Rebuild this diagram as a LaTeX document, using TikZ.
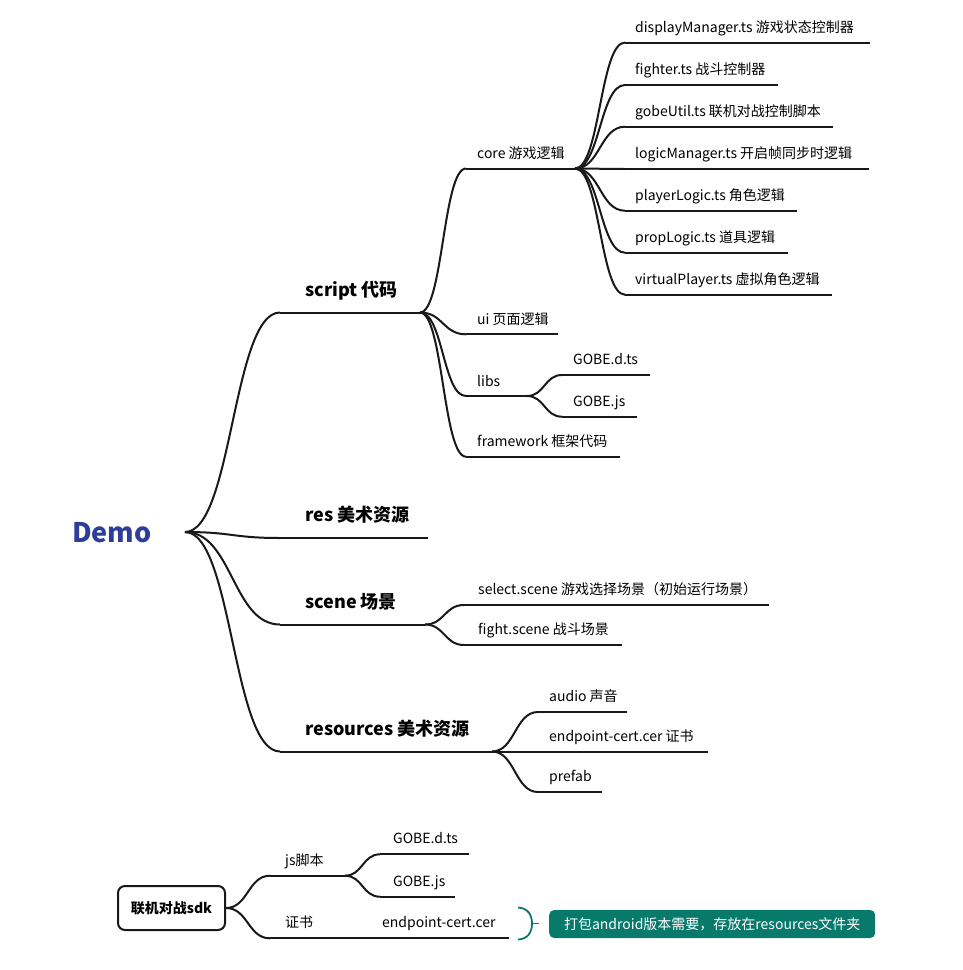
\documentclass[tikz,border=0pt]{standalone}
\usepackage{fontspec}
\setmainfont{Noto Sans CJK SC}
\usetikzlibrary{calc}
\definecolor{demoblue}{RGB}{46,62,152}
\definecolor{noteteal}{RGB}{8,122,108}
\definecolor{linkgray}{RGB}{25,25,25}

\begin{document}
\begin{tikzpicture}[
    x=1pt, y=-1pt,
    root/.style={font=\fontsize{27}{32}\selectfont\bfseries, text=demoblue, anchor=base west, inner sep=0pt},
    topic/.style={font=\fontsize{18}{22}\selectfont\bfseries, anchor=base west, inner sep=0pt},
    leaf/.style={font=\fontsize{14}{17}\selectfont, anchor=base west, inner sep=0pt},
    sdkbox/.style={draw=linkgray, line width=2pt, rounded corners=7pt,
      minimum width=107pt, minimum height=44pt, font=\fontsize{14}{17}\selectfont\bfseries},
    note/.style={fill=noteteal, text=white, rounded corners=5pt,
      minimum width=326pt, minimum height=28pt, font=\fontsize{14}{17}\selectfont},
    branch/.style={to path={.. controls ($(\tikztostart)!0.5!(\tikztotarget |- \tikztostart)$)
      and ($(\tikztotarget)!0.5!(\tikztostart |- \tikztotarget)$) .. (\tikztotarget)}}
  ]
    \useasboundingbox (0,0) rectangle (963,970);

    % root
    \node[root] (demo) at (72,542) {Demo};
    \coordinate (demo-r) at (185,532);

    % main topics
    \node[topic] (script) at (305,296) {script 代码};
    \coordinate (script-l) at (280,312.5); \coordinate (script-r) at (420,312.5);
    \node[topic] (res) at (305,521) {res 美术资源};
    \coordinate (res-l) at (280,538); \coordinate (res-r) at (428,538);
    \node[topic] (scene) at (305,608) {scene 场景};
    \coordinate (scene-l) at (280,624.5); \coordinate (scene-r) at (425,624.5);
    \node[topic] (resources) at (305,735.5) {resources 美术资源};
    \coordinate (resources-l) at (280,751.5); \coordinate (resources-r) at (492,751.5);

    % script
    \node[leaf] (core) at (477,158.5) {core 游戏逻辑};
    \coordinate (core-l) at (466,168.5); \coordinate (core-r) at (575,168.5);
    \node[leaf] (ui) at (477,324) {ui 页面逻辑};
    \coordinate (ui-l) at (466,334.3); \coordinate (ui-r) at (558,334.3);
    \node[leaf] (libs) at (477,386) {libs};
    \coordinate (libs-l) at (466,396); \coordinate (libs-r) at (527,396);
    \node[leaf] (framework) at (477,446.5) {framework 框架代码};
    \coordinate (framework-l) at (466,456.7); \coordinate (framework-r) at (620,456.7);

    % core
    \node[leaf] (display) at (635,32) {displayManager.ts 游戏状态控制器};
    \coordinate (display-l) at (625,42.5); \coordinate (display-r) at (870,42.5);
    \node[leaf] (fighter) at (635,74.5) {fighter.ts 战斗控制器};
    \coordinate (fighter-l) at (625,85); \coordinate (fighter-r) at (778,85);
    \node[leaf] (gobeutil) at (635,116.2) {gobeUtil.ts 联机对战控制脚本};
    \coordinate (gobeutil-l) at (625,126.7); \coordinate (gobeutil-r) at (833,126.7);
    \node[leaf] (logicmgr) at (635,158.5) {logicManager.ts 开启帧同步时逻辑};
    \coordinate (logicmgr-l) at (625,169); \coordinate (logicmgr-r) at (869,169);
    \node[leaf] (playerlogic) at (635,200.2) {playerLogic.ts 角色逻辑};
    \coordinate (playerlogic-l) at (625,210.7); \coordinate (playerlogic-r) at (797,210.7);
    \node[leaf] (proplogic) at (635,242.2) {propLogic.ts 道具逻辑};
    \coordinate (proplogic-l) at (625,252.7); \coordinate (proplogic-r) at (788,252.7);
    \node[leaf] (virtual) at (635,284.2) {virtualPlayer.ts 虚拟角色逻辑};
    \coordinate (virtual-l) at (625,294.7); \coordinate (virtual-r) at (832,294.7);

    % libs
    \node[leaf] (libdts) at (573,364.5) {GOBE.d.ts};
    \coordinate (libdts-l) at (562,375); \coordinate (libdts-r) at (650,375);
    \node[leaf] (libjs) at (573,406.2) {GOBE.js};
    \coordinate (libjs-l) at (562,416.7); \coordinate (libjs-r) at (637,416.7);

    % scene
    \node[leaf] (select) at (478,594.5) {select.scene 游戏选择场景（初始运行场景）};
    \coordinate (select-l) at (464,605); \coordinate (select-r) at (769,605);
    \node[leaf] (fight) at (478,634.5) {fight.scene 战斗场景};
    \coordinate (fight-l) at (464,645); \coordinate (fight-r) at (622,645);

    % resources
    \node[leaf] (audio) at (549,701.5) {audio 声音};
    \coordinate (audio-l) at (538,712); \coordinate (audio-r) at (627,712);
    \node[leaf] (cert) at (549,741.5) {endpoint-cert.cer 证书};
    \coordinate (cert-l) at (538,751.5); \coordinate (cert-r) at (708,751.5);
    \node[leaf] (prefab) at (549,781.5) {prefab};
    \coordinate (prefab-l) at (538,792); \coordinate (prefab-r) at (602,792);

    % sdk
    \node[sdkbox] (sdk) at (171.5,908) {联机对战sdk};
    \node[leaf] (js) at (285,865) {js脚本};
    \coordinate (js-l) at (270,875.7); \coordinate (js-r) at (345,875.7);
    \node[leaf] (jsdts) at (393,843.8) {GOBE.d.ts};
    \coordinate (jsdts-l) at (380,854.3); \coordinate (jsdts-r) at (469,854.3);
    \node[leaf] (jsjs) at (393,886.2) {GOBE.js};
    \coordinate (jsjs-l) at (380,896.7); \coordinate (jsjs-r) at (455,896.7);
    \node[leaf] (sdkcert) at (285,927.8) {证书};
    \coordinate (sdkcert-l) at (270,938.3); \coordinate (sdkcert-r) at (377,938.3);
    \node[leaf] (certfile) at (382,927.8) {endpoint-cert.cer};
    \coordinate (certfile-l) at (377,938.3); \coordinate (certfile-r) at (509,938.3);

    % note
    \coordinate (brace-top) at (518,907.5);
    \coordinate (brace-mid) at (532,923.5);
    \coordinate (brace-bot) at (518,939.5);
    \coordinate (brace-tip) at (539,923.5);
    \node[note, anchor=west] (note) at (549,924) {打包android版本需要，存放在resources文件夹};
    \draw[noteteal, line width=1.8pt]
      (brace-top) .. controls (528,908) and (532,915) .. (brace-mid)
      .. controls (532,932) and (528,939) .. (brace-bot);
    \draw[noteteal, line width=1.8pt] (brace-mid) -- (brace-tip);

    \begin{scope}[draw=linkgray, line width=2pt]
      % underlines
      \draw (script-l) -- (script-r);
      \draw (res-l) -- (res-r);
      \draw (scene-l) -- (scene-r);
      \draw (resources-l) -- (resources-r);
      \draw (core-l) -- (core-r);
      \draw (ui-l) -- (ui-r);
      \draw (libs-l) -- (libs-r);
      \draw (framework-l) -- (framework-r);
      \draw (display-l) -- (display-r);
      \draw (fighter-l) -- (fighter-r);
      \draw (gobeutil-l) -- (gobeutil-r);
      \draw (logicmgr-l) -- (logicmgr-r);
      \draw (playerlogic-l) -- (playerlogic-r);
      \draw (proplogic-l) -- (proplogic-r);
      \draw (virtual-l) -- (virtual-r);
      \draw (libdts-l) -- (libdts-r);
      \draw (libjs-l) -- (libjs-r);
      \draw (select-l) -- (select-r);
      \draw (fight-l) -- (fight-r);
      \draw (audio-l) -- (audio-r);
      \draw (cert-l) -- (cert-r);
      \draw (prefab-l) -- (prefab-r);
      \draw (js-l) -- (js-r);
      \draw (jsdts-l) -- (jsdts-r);
      \draw (jsjs-l) -- (jsjs-r);
      \draw (sdkcert-l) -- (sdkcert-r);
      \draw (certfile-l) -- (certfile-r);
      % links
      \draw (demo-r) to[branch] (script-l);
      \draw (demo-r) to[branch] (res-l);
      \draw (demo-r) to[branch] (scene-l);
      \draw (demo-r) to[branch] (resources-l);
      \draw (script-r) to[branch] (core-l);
      \draw (script-r) to[branch] (ui-l);
      \draw (script-r) to[branch] (libs-l);
      \draw (script-r) to[branch] (framework-l);
      \draw (core-r) to[branch] (display-l);
      \draw (core-r) to[branch] (fighter-l);
      \draw (core-r) to[branch] (gobeutil-l);
      \draw (core-r) to[branch] (logicmgr-l);
      \draw (core-r) to[branch] (playerlogic-l);
      \draw (core-r) to[branch] (proplogic-l);
      \draw (core-r) to[branch] (virtual-l);
      \draw (libs-r) to[branch] (libdts-l);
      \draw (libs-r) to[branch] (libjs-l);
      \draw (scene-r) to[branch] (select-l);
      \draw (scene-r) to[branch] (fight-l);
      \draw (resources-r) to[branch] (audio-l);
      \draw (resources-r) to[branch] (cert-l);
      \draw (resources-r) to[branch] (prefab-l);
      \draw (sdk.east) to[branch] (js-l);
      \draw (sdk.east) to[branch] (sdkcert-l);
      \draw (js-r) to[branch] (jsdts-l);
      \draw (js-r) to[branch] (jsjs-l);
      \draw (sdkcert-r) -- (certfile-l);
    \end{scope}
  \end{tikzpicture}
\end{document}
